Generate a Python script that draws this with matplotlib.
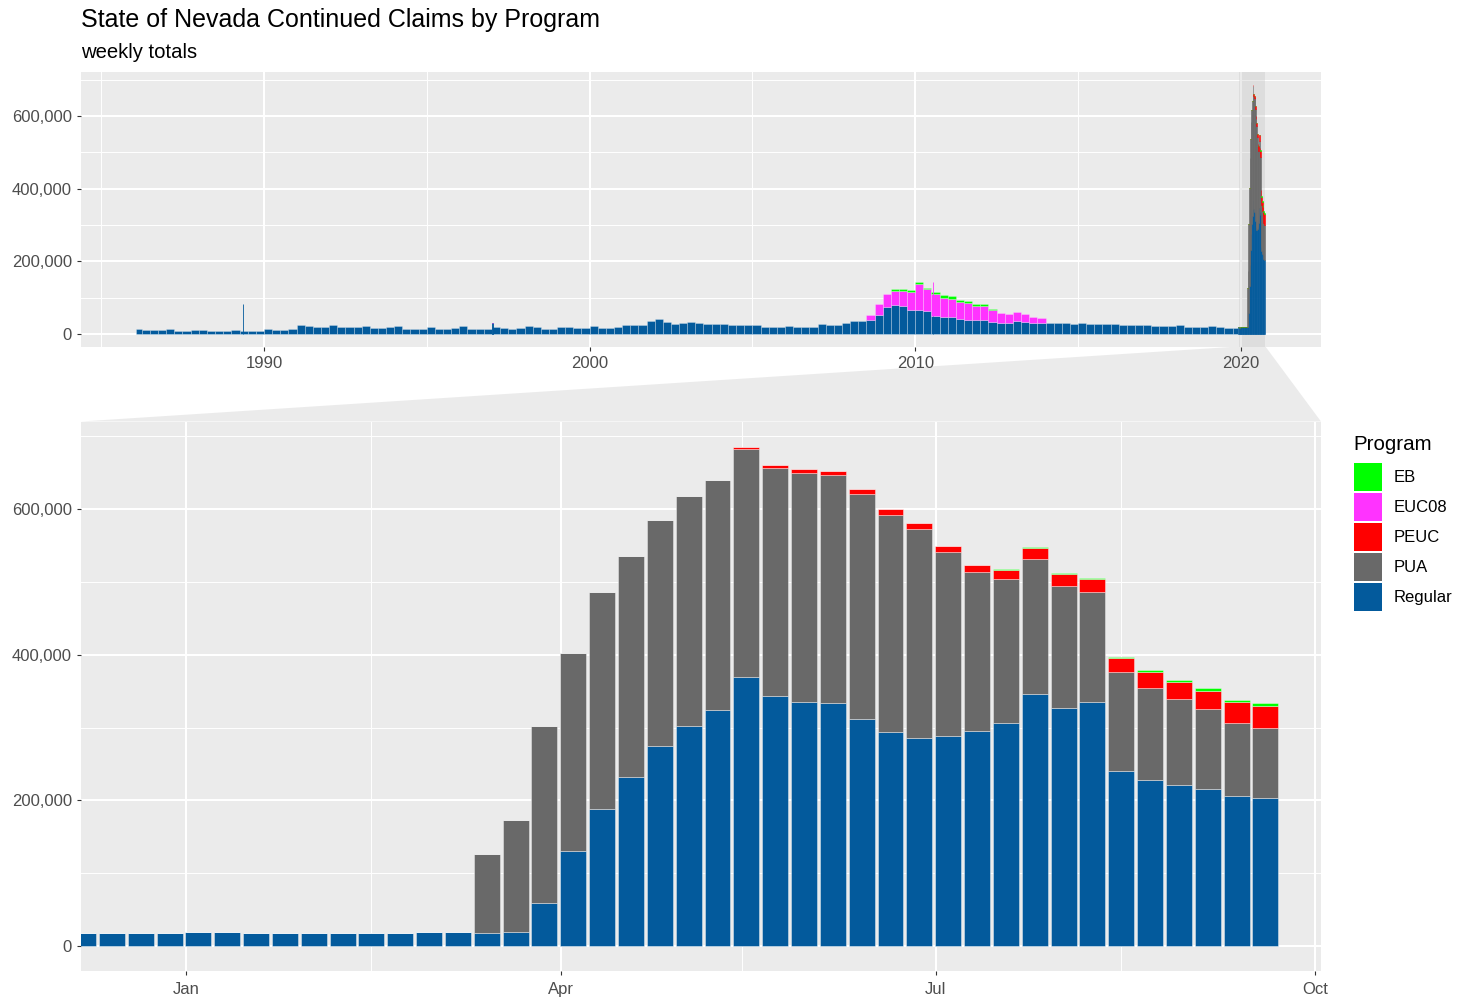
import numpy as np
import pandas as pd
import matplotlib
matplotlib.use('Agg')
import matplotlib.pyplot as plt
import matplotlib.dates as mdates
from matplotlib.patches import Patch, Polygon
from matplotlib.ticker import FuncFormatter, MultipleLocator
from matplotlib.transforms import blended_transform_factory

plt.rcParams['font.family'] = ['Liberation Sans', 'DejaVu Sans']

# weekly continued claims, week ending Saturday (thousands)
week_end = pd.date_range('2019-12-07', '2020-09-19', freq='7D')
regular_wk = [18.3, 17.8, 17.8, 18.3, 19.8, 19.3, 18.3, 18.3, 18.3, 18.3, 18.3, 18.3,
              19.3, 19.3, 18.3, 19.3, 58.4, 131, 188.8, 231.5, 274, 302.5, 324.4, 369,
              343, 335, 334, 311.7, 293.9, 286.3, 287.8, 295.4, 306.1, 346.2, 327.4,
              335.5, 240.1, 227.4, 221.3, 216.2, 206.1, 203]
pua_wk = [0] * 14 + [108.1, 154.3, 243.6, 271, 297, 304, 310.8, 315.2, 316.2, 314.2,
                     312.8, 314.2, 312.2, 308.6, 298.5, 285.8, 253.3, 217.8, 198.5, 185.8,
                     167.5, 150.8, 136, 126.9, 117.3, 108.7, 99.5, 96]
peuc_wk = [0] * 23 + [1.6, 5.1, 6.1, 6.6, 7.1, 8.1, 8.6, 8.6, 9.6, 12.2, 14.7, 16.2,
                      17.7, 19.3, 21.8, 24.3, 25.9, 28.9, 30.4]
eb_wk = [0] * 32 + [1.0, 1.0, 1.6, 1.6, 2.0, 2.6, 3.1, 3.5, 3.6, 4.6]

# history before Dec 2019, read per quarter off the overview panel (thousands)
quarter_start = pd.date_range('1986-01-01', '2019-10-01', freq='QS')
regular_q = [14, 11, 11, 11, 14, 9, 9, 10, 12, 8, 8, 9, 12, 7.5, 7.5, 9,
             13, 11, 11, 13, 25, 21, 18, 18, 26, 20, 19, 19, 23, 17, 16.5, 18,
             22, 15, 14, 14, 19.5, 14.5, 14, 16, 21, 14, 13, 14, 19.5, 15.5, 14.8, 17,
             23, 18, 14.8, 15, 18.5, 18.5, 17, 17.5, 22, 17, 16.7, 19, 24, 24, 24, 35,
             42, 34, 28, 29, 32, 29, 28, 27, 27, 25, 24.5, 24.5, 25.5, 20, 20, 20,
             21, 20, 19.5, 20, 26.5, 26, 26, 29, 35, 35, 38, 52, 75, 80, 78, 65,
             67, 63, 50, 47, 46, 42, 40, 38, 38, 34, 31, 30, 35, 33, 30, 31,
             30, 31, 29, 27, 30, 27, 26.5, 27, 28.5, 24.5, 24, 24, 26, 22, 22, 22.5,
             24, 20, 19.5, 19.5, 21, 18, 17.5, 17.5]
euc08_start = '2008-07-01'
euc08_q = [15.6, 30, 34, 38, 40, 50, 71, 60, 60, 52, 50, 45, 45, 40, 40, 32,
           27, 26, 26, 21, 18, 13]
eb_start = '2009-04-01'
eb_q = [6, 7, 5, 5, 4, 7, 8, 8, 6, 5, 4, 4, 3]

# single weeks that stick out of the quarterly level
spike_week = pd.to_datetime(['1989-05-12', '1997-01-04', '2010-07-17'])
spike_regular = [84, 29.6, 50]
spike_euc08 = [0, 0, 93]

programs = ['EB', 'EUC08', 'PEUC', 'PUA', 'Regular']
colors = {'EB': '#00ff00', 'EUC08': '#ff33ff', 'PEUC': '#ff0000',
          'PUA': '#696969', 'Regular': '#035a9c'}

zoom_lo = pd.Timestamp('2019-12-06 12:00')
zoom_hi = pd.Timestamp('2020-10-02 12:00')
first_week = pd.Timestamp('1986-01-25')
bar_days = 6.3
edge = (1, 1, 1, 0.35)

W, H = 1464, 999
fig = plt.figure(figsize=(W / 100, H / 100), dpi=100)


def px_axes(l, t, r, b):
    return fig.add_axes([l / W, 1 - b / H, (r - l) / W, (b - t) / H])


def style(ax):
    ax.set_facecolor('#ebebeb')
    for s in ax.spines.values():
        s.set_visible(False)
    ax.set_axisbelow(True)
    ax.grid(which='major', color='white', lw=1.45)
    ax.grid(which='minor', color='white', lw=0.7)
    ax.tick_params(which='major', length=3, width=0.8, color='#333333',
                   labelsize=12, labelcolor='#4d4d4d', pad=3.5)
    ax.tick_params(which='minor', length=0)
    ax.yaxis.set_major_locator(MultipleLocator(200000))
    ax.yaxis.set_minor_locator(MultipleLocator(100000))
    ax.yaxis.set_major_formatter(FuncFormatter(lambda v, p: f'{v:,.0f}'))
    ax.set_ylim(-34300, 720300)


def weekly_stack(ax, width, solid=False):
    x = mdates.date2num(week_end)
    bottom = np.zeros(len(week_end))
    for name, vals in [('Regular', regular_wk), ('PUA', pua_wk),
                       ('PEUC', peuc_wk), ('EB', eb_wk)]:
        v = np.array(vals) * 1000
        ec = colors[name] if solid else (1, 1, 1, 0.45)
        ax.bar(x, v, width, bottom=bottom, color=colors[name], edgecolor=ec,
               lw=0.4 if solid else 0.6)
        bottom += v


ax_top = px_axes(81, 72.3, 1321, 346.5)
ax_bot = px_axes(81, 421.5, 1321, 971)
style(ax_top)
style(ax_bot)

# overview panel: quarterly history
left = mdates.date2num([first_week] + list(quarter_start[1:]))
right = np.append(left[1:], mdates.date2num(week_end[0]) - 3.5)
reg_q = np.array(regular_q) * 1000
ax_top.bar(left, reg_q, right - left, align='edge', color=colors['Regular'],
           edgecolor=edge, lw=0.5)
i0 = quarter_start.get_loc(pd.Timestamp(euc08_start))
euc = np.array(euc08_q) * 1000
ax_top.bar(left[i0:i0 + len(euc)], euc, (right - left)[i0:i0 + len(euc)], align='edge',
           bottom=reg_q[i0:i0 + len(euc)], color=colors['EUC08'], edgecolor=edge, lw=0.5)
i1 = quarter_start.get_loc(pd.Timestamp(eb_start))
eb = np.array(eb_q) * 1000
base = reg_q[i1:i1 + len(eb)] + euc[i1 - i0:i1 - i0 + len(eb)]
ax_top.bar(left[i1:i1 + len(eb)], eb, (right - left)[i1:i1 + len(eb)], align='edge',
           bottom=base, color=colors['EB'], edgecolor=edge, lw=0.5)
sx = mdates.date2num(spike_week)
sr = np.array(spike_regular) * 1000
ax_top.bar(sx, sr, bar_days, color=colors['Regular'], edgecolor=colors['Regular'], lw=0.6)
ax_top.bar(sx, np.array(spike_euc08) * 1000, bar_days, bottom=sr, color=colors['EUC08'],
           edgecolor=colors['EUC08'], lw=0.6)
weekly_stack(ax_top, 7, solid=True)
ax_top.axvspan(zoom_lo, zoom_hi, color='#bebebe', alpha=0.3, lw=0, zorder=0.8)

ax_top.set_xlim(pd.Timestamp('1984-05-19'), pd.Timestamp('2022-06-18'))
ax_top.xaxis.set_major_locator(mdates.YearLocator(10))
ax_top.xaxis.set_minor_locator(mdates.YearLocator(5))
ax_top.xaxis.set_major_formatter(mdates.DateFormatter('%Y'))

# zoomed panel
weekly_stack(ax_bot, bar_days)
ax_bot.set_xlim(zoom_lo, zoom_hi)
ax_bot.xaxis.set_major_locator(mdates.MonthLocator(bymonth=[1, 4, 7, 10]))
ax_bot.xaxis.set_minor_locator(mdates.MonthLocator(bymonth=[2, 5, 8, 11], bymonthday=15))
ax_bot.xaxis.set_major_formatter(mdates.DateFormatter('%b'))
ax_bot.tick_params(axis='x', which='major', pad=5)

# connector between the zoom window and the zoomed panel
to_fig = fig.transFigure.inverted()
tt = blended_transform_factory(ax_top.transData, ax_top.transAxes)
p_lo = to_fig.transform(tt.transform((mdates.date2num(zoom_lo), 0)))
p_hi = to_fig.transform(tt.transform((mdates.date2num(zoom_hi), 0)))
b_l = to_fig.transform(ax_bot.transAxes.transform((0, 1)))
b_r = to_fig.transform(ax_bot.transAxes.transform((1, 1)))
fig.add_artist(Polygon([p_lo, p_hi, b_r, b_l], closed=True, transform=fig.transFigure,
                       facecolor='#bebebe', alpha=0.3, lw=0, zorder=-1))

fig.text(81 / W, 1 - 27.5 / H, 'State of Nevada Continued Claims by Program',
         fontsize=18, va='baseline', ha='left')
fig.text(81 / W, 1 - 58 / H, 'weekly totals', fontsize=14.6, va='baseline', ha='left')

# legend
fig.text(1353 / W, 1 - 450 / H, 'Program', fontsize=14.8, va='baseline', ha='left')
handles = [Patch(facecolor=colors[p], edgecolor='none', label=p) for p in programs]
fig.legend(handles=handles, loc='upper left',
           bbox_to_anchor=(1354 / W, 1 - 463 / H), frameon=False, fontsize=12,
           handlelength=1.69, handleheight=2.21, labelspacing=0.12,
           handletextpad=0.66, borderpad=0, borderaxespad=0)

fig.savefig('out.png', dpi=100, facecolor='white')
